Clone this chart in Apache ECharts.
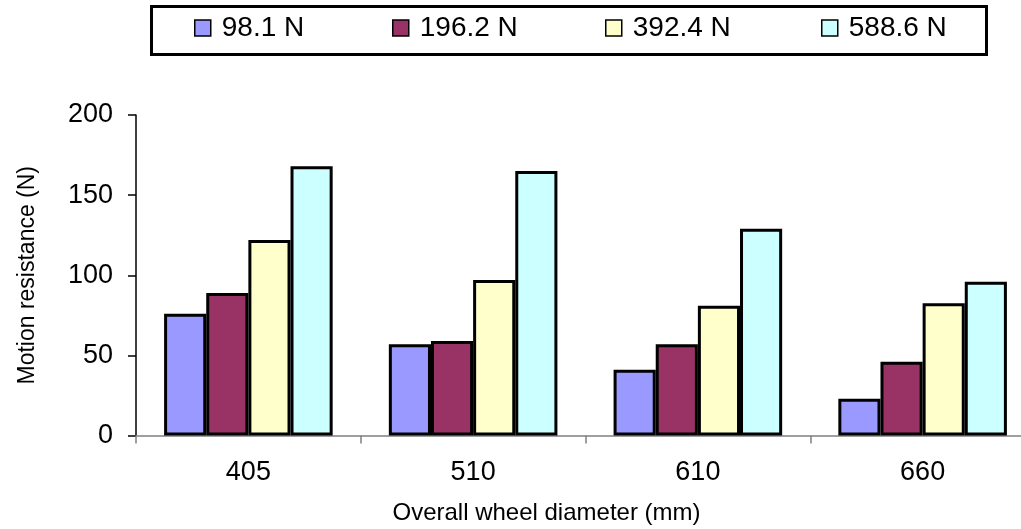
<!DOCTYPE html>
<html>
<head>
<meta charset="utf-8">
<script src="https://cdn.jsdelivr.net/npm/echarts@6/dist/echarts.min.js"></script>
<style>
html,body{margin:0;padding:0;background:#fff;}
#chart{width:1021px;height:529px;}
</style>
</head>
<body>
<div id="chart"></div>
<script>
const categories = ['405', '510', '610', '660'];
const seriesNames = ['98.1 N', '196.2 N', '392.4 N', '588.6 N'];
const s98 = [76, 57, 41, 23];
const s196 = [89, 59, 57, 46];
const s392 = [122, 97, 81, 82.5];
const s588 = [168, 165, 129, 96];
const yTicks = [0, 50, 100, 150, 200];

const colors = ['#9999FF', '#993366', '#FFFFCC', '#CCFFFF'];
const values = [s98, s196, s392, s588];
const font = 'Arial, "Liberation Sans", sans-serif';
const legendLefts = [194, 392, 605, 821];

const chart = echarts.init(document.getElementById('chart'), null, {renderer: 'canvas'});
chart.setOption({
  animation: false,
  backgroundColor: '#fff',
  graphic: [{
    type: 'rect',
    shape: {x: 151.5, y: 6.5, width: 835, height: 48},
    style: {fill: 'none', stroke: '#000', lineWidth: 3},
    silent: true
  }],
  legend: seriesNames.map((n, i) => ({
    top: 14,
    left: legendLefts[i],
    padding: 0,
    itemWidth: 16,
    itemHeight: 16,
    icon: 'rect',
    itemStyle: {borderColor: '#000', borderWidth: 1.5},
    textStyle: {fontFamily: font, fontSize: 28, color: '#000', padding: [0, 0, 0, 6]},
    data: [n],
    selectedMode: false
  })),
  grid: {left: 136, right: -14, top: 115, bottom: 93.5, containLabel: false, outerBoundsMode: 'none'},
  xAxis: {
    type: 'category',
    data: categories,
    boundaryGap: true,
    axisLine: {lineStyle: {color: '#808080', width: 1.5}},
    axisTick: {show: true, length: 8, lineStyle: {color: '#808080', width: 1.5}},
    axisLabel: {fontFamily: font, fontSize: 27, color: '#000', margin: 24},
    name: 'Overall wheel diameter (mm)',
    nameLocation: 'middle',
    nameGap: 66,
    nameTextStyle: {fontFamily: font, fontSize: 24, color: '#000', padding: [0, 78, 0, 0]}
  },
  yAxis: {
    type: 'value',
    min: 0,
    max: 200,
    interval: 50,
    splitLine: {show: false},
    axisLine: {show: true, lineStyle: {color: '#000', width: 1.5}},
    axisTick: {show: true, length: 8, inside: false, lineStyle: {color: '#000', width: 1.5}},
    axisLabel: {fontFamily: font, fontSize: 27, color: '#000', margin: 23,
      formatter: v => yTicks.includes(v) ? String(v) : ''},
    name: 'Motion resistance (N)',
    nameLocation: 'middle',
    nameGap: 97,
    nameTextStyle: {fontFamily: font, fontSize: 23, color: '#000'}
  },
  series: seriesNames.map((n, i) => ({
    name: n,
    type: 'bar',
    data: values[i],
    barGap: '0%',
    barCategoryGap: '25%',
    itemStyle: {color: colors[i], borderColor: '#000', borderWidth: 3},
    emphasis: {disabled: true}
  }))
});
</script>
</body>
</html>
